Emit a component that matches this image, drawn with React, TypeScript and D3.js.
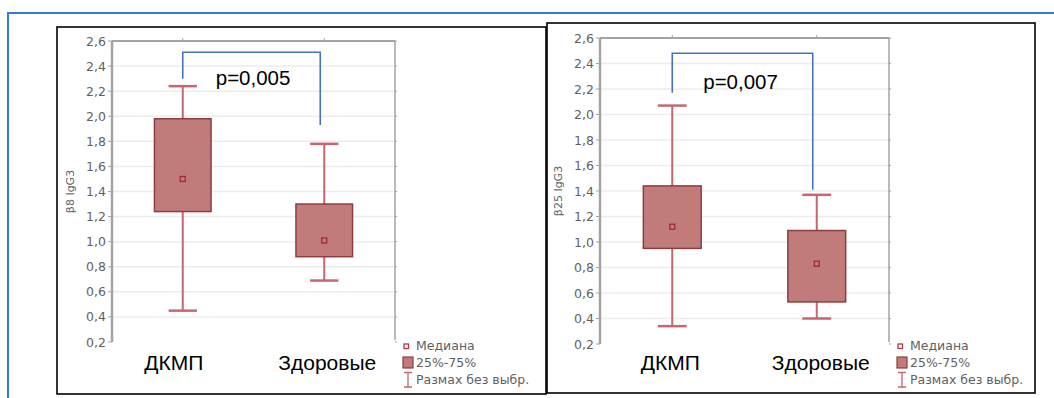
import React from 'react';
import * as d3 from 'd3';

const categories = ['ДКМП', 'Здоровые'];
const yTicks = [0.2, 0.4, 0.6, 0.8, 1.0, 1.2, 1.4, 1.6, 1.8, 2.0, 2.2, 2.4, 2.6];

// β8 IgG3
const b8Min = [0.45, 0.69];
const b8Q1 = [1.24, 0.88];
const b8Median = [1.50, 1.01];
const b8Q3 = [1.98, 1.30];
const b8Max = [2.24, 1.78];

// β25 IgG3
const b25Min = [0.34, 0.40];
const b25Q1 = [0.95, 0.53];
const b25Median = [1.12, 0.83];
const b25Q3 = [1.44, 1.09];
const b25Max = [2.07, 1.37];

// brackets: [left foot, top, right foot], p label level
const b8Bracket = [2.30, 2.51, 1.93];
const b25Bracket = [2.17, 2.48, 1.41];
const pLabels = ['p=0,005', 'p=0,007'];
const pLevels = [2.25, 2.20];

const legendItems = ['Медиана', '25%-75%', 'Размах без выбр.'];

const fmt = (v: number) => v.toFixed(1).replace('.', ',');

const BOX_FILL = '#c17b7b';
const BOX_STROKE = '#8e3d3f';
const WHISK = '#c4676e';
const AXIS = '#a3a3a3';
const TXT = '#5f5f5f';
const FONT = 'Arial, "Liberation Sans", sans-serif';
const SMALL = '"DejaVu Sans", Verdana, sans-serif';

type PanelProps = {
  frame: [number, number, number, number];
  plotX: [number, number];
  plotY: [number, number];
  title: string;
  min: number[]; q1: number[]; med: number[]; q3: number[]; max: number[];
  bracket: number[];
  pLabel: string;
  pLevel: number;
  pDx: number;
  labelShift: number[];
};

function Panel(p: PanelProps) {
  const x = d3.scalePoint<string>().domain(categories).range(p.plotX).padding(0.5);
  const y = d3.scaleLinear().domain([0.2, 2.6]).range(p.plotY);
  const step = x.step();
  const bw = step * 0.4;
  const cw = step * 0.2;
  const [l, r] = p.plotX;
  const top = y(2.6);
  const bottom = y(0.2);
  const [fx0, fy0, fx1, fy1] = p.frame;
  const bx0 = x(categories[0])!;
  const bx1 = x(categories[1])!;

  return (
    <g>
      <rect x={fx0} y={fy0} width={fx1 - fx0} height={fy1 - fy0} fill="#fff" stroke="#000" strokeWidth={1.6} />
      {yTicks.slice(1, -1).map(t => (
        <line key={t} x1={l} x2={r} y1={y(t)} y2={y(t)} stroke="#ececec" strokeWidth={1.5} />
      ))}
      <line x1={l} x2={r} y1={top} y2={top} stroke={AXIS} strokeWidth={2} />
      <line x1={r} x2={r} y1={top} y2={bottom - 2} stroke={AXIS} strokeWidth={1.5} />
      <line x1={l} x2={l} y1={top} y2={bottom} stroke={AXIS} strokeWidth={2.5} />
      {yTicks.map(t => (
        <g key={t}>
          <line x1={l - 4} x2={l} y1={y(t)} y2={y(t)} stroke={AXIS} strokeWidth={1} />
          <line x1={r} x2={r + 2} y1={y(t)} y2={y(t)} stroke={AXIS} strokeWidth={1} />
          <text x={l - 6} y={y(t)} dy="0.36em" textAnchor="end" fontSize={12.5} fill={TXT} fontFamily={SMALL}>
            {fmt(t)}
          </text>
        </g>
      ))}
      {categories.map(c => (
        <line key={c} x1={x(c)} x2={x(c)} y1={top - 3} y2={top} stroke={AXIS} strokeWidth={1} />
      ))}
      <text
        transform={`translate(${l - 38},${(top + bottom) / 2}) rotate(-90)`}
        textAnchor="middle"
        fontSize={11}
        fill={TXT}
        fontFamily={SMALL}
      >
        {p.title}
      </text>

      {categories.map((c, i) => {
        const cx = x(c)!;
        return (
          <g key={c}>
            <line x1={cx} x2={cx} y1={y(p.max[i])} y2={y(p.min[i])} stroke={WHISK} strokeWidth={2} />
            <line x1={cx - cw / 2} x2={cx + cw / 2} y1={y(p.max[i])} y2={y(p.max[i])} stroke={WHISK} strokeWidth={2.5} />
            <line x1={cx - cw / 2} x2={cx + cw / 2} y1={y(p.min[i])} y2={y(p.min[i])} stroke={WHISK} strokeWidth={2.5} />
            <rect
              x={cx - bw / 2}
              y={y(p.q3[i])}
              width={bw}
              height={y(p.q1[i]) - y(p.q3[i])}
              fill={BOX_FILL}
              stroke={BOX_STROKE}
              strokeWidth={1.5}
            />
            <rect x={cx - 2.5} y={y(p.med[i]) - 2.5} width={5} height={5} fill={BOX_FILL} stroke="#a02a30" strokeWidth={1.3} />
            <text x={cx + p.labelShift[i]} y={370} textAnchor="middle" fontSize={21} fill="#000" fontFamily={FONT}>
              {c}
            </text>
          </g>
        );
      })}

      <path
        d={`M${bx0},${y(p.bracket[0])}V${y(p.bracket[1])}H${bx1 - 4}V${y(p.bracket[2])}`}
        fill="none"
        stroke="#4472c4"
        strokeWidth={1.6}
      />
      <text x={bx0 + p.pDx} y={y(p.pLevel)} fontSize={20.5} fill="#000" fontFamily={FONT}>
        {p.pLabel}
      </text>

      <g transform={`translate(${r + 11},0)`} fontFamily={SMALL} fontSize={12.5} fill={TXT}>
        <rect x={-2} y={344} width={4.5} height={4.5} fill="#fff" stroke="#b03a40" strokeWidth={1.3} />
        <text x={10} y={346} dy="0.35em">{legendItems[0]}</text>
        <rect x={-3} y={357} width={10} height={11} fill={BOX_FILL} stroke={BOX_STROKE} strokeWidth={1.2} />
        <text x={10} y={362.5} dy="0.35em">{legendItems[1]}</text>
        <path d="M-2,372.5H6M2,372.5V387M-2,387H6" fill="none" stroke={WHISK} strokeWidth={1.3} />
        <text x={10} y={380} dy="0.35em">{legendItems[2]}</text>
      </g>
    </g>
  );
}

export default function App() {
  return (
    <svg
      width={1054}
      height={398}
      style={{ position: 'absolute', left: 0, top: 0, background: '#fff' }}
    >
      <rect x={8} y={13} width={1100} height={420} fill="#fff" stroke="#2d7fd4" strokeWidth={2} />
      <Panel
        frame={[57, 27, 546, 394]}
        plotX={[112, 395]}
        plotY={[342, 41]}
        title="β8 IgG3"
        min={b8Min} q1={b8Q1} med={b8Median} q3={b8Q3} max={b8Max}
        bracket={b8Bracket}
        pLabel={pLabels[0]}
        pLevel={pLevels[0]}
        pDx={33}
        labelShift={[-9, 3]}
      />
      <Panel
        frame={[547, 23, 1035, 393]}
        plotX={[600, 889]}
        plotY={[344, 38]}
        title="β25 IgG3"
        min={b25Min} q1={b25Q1} med={b25Median} q3={b25Q3} max={b25Max}
        bracket={b25Bracket}
        pLabel={pLabels[1]}
        pLevel={pLevels[1]}
        pDx={31}
        labelShift={[-2, 4]}
      />
    </svg>
  );
}
